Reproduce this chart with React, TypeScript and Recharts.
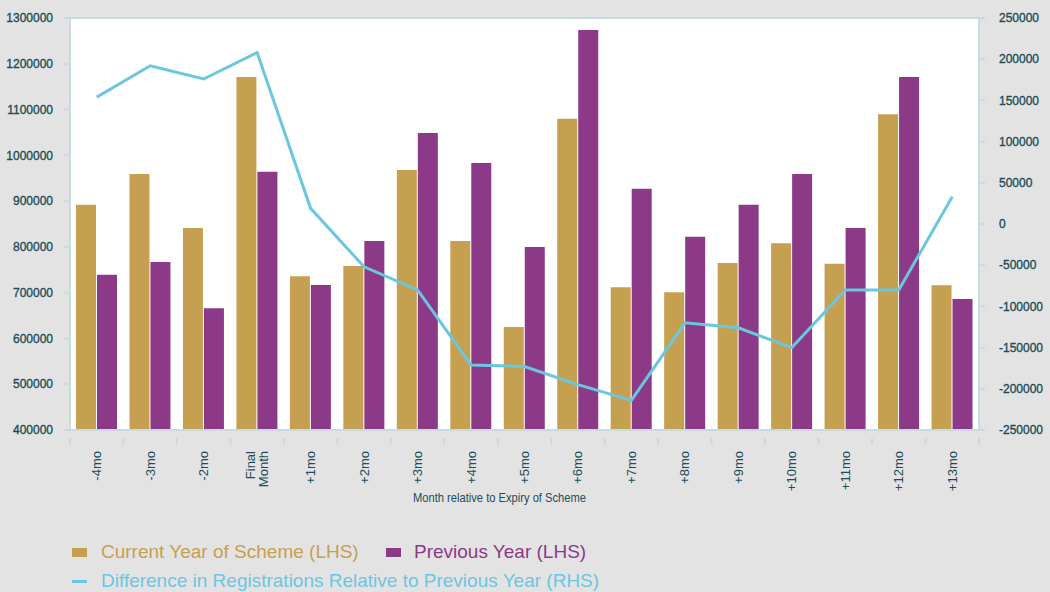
import React from 'react';
import { ComposedChart, Bar, Line, XAxis, YAxis, CartesianGrid, Legend, Label, ReferenceLine } from 'recharts';

const categories = ['-4mo', '-3mo', '-2mo', 'Final Month', '+1mo', '+2mo', '+3mo', '+4mo', '+5mo', '+6mo', '+7mo', '+8mo', '+9mo', '+10mo', '+11mo', '+12mo', '+13mo'];
const currentYear = [892000, 959000, 841000, 1171000, 736000, 758000, 968000, 813000, 625000, 1080000, 712000, 701000, 765000, 808000, 763000, 1090000, 716000];
const previousYear = [739000, 767000, 666000, 964000, 717000, 813000, 1049000, 983000, 800000, 1274000, 927000, 822000, 892000, 959000, 841000, 1171000, 686000];
const difference = [154000, 192000, 176000, 208000, 19000, -52000, -80000, -171000, -173000, -195000, -214000, -120000, -126000, -150000, -80000, -80000, 33000];
const leftTicks = [400000, 500000, 600000, 700000, 800000, 900000, 1000000, 1100000, 1200000, 1300000];
const rightTicks = [-250000, -200000, -150000, -100000, -50000, 0, 50000, 100000, 150000, 200000, 250000];

const GOLD = '#c5a050';
const PURPLE = '#8c3a87';
const BLUE = '#6bc6e0';
const TEXT = '#1d4d5b';
const AXIS = '#c7dbe1';
const BG = '#e3e3e3';
const FONT = '"Liberation Sans", Arial, sans-serif';

const PLOT_W = 909;

const data = categories.map((month, i) => ({
    month,
    current: currentYear[i],
    previous: previousYear[i],
    diff: difference[i],
}));

const MonthTick = (props: any) => {
    const { x, y, payload, index } = props;
    const band = PLOT_W / categories.length;
    const words = String(payload.value).split(' ');
    const last = index === categories.length - 1;
    return (
        <g>
            <line x1={x - band / 2} x2={x - band / 2} y1={y} y2={y + 7} stroke={AXIS} strokeWidth={2} />
            {last && <line x1={x + band / 2} x2={x + band / 2} y1={y} y2={y + 7} stroke={AXIS} strokeWidth={2} />}
            <text transform={`translate(${x},${y + 13}) rotate(-90)`} textAnchor="end" fill={TEXT} fontSize={13} fontFamily={FONT}>
                {words.map((w, i) => (
                    <tspan key={w} x={0} dy={i === 0 ? (words.length > 1 ? -2 : 4.5) : 13}>{w}</tspan>
                ))}
            </text>
        </g>
    );
};

const AxisTitle = (props: any) => {
    const { viewBox } = props;
    return (
        <text x={viewBox.x + viewBox.width / 2 - 25} y={viewBox.y + 72} textAnchor="middle" fill={TEXT} fontSize={13} fontFamily={FONT}
            textLength={173} lengthAdjust="spacingAndGlyphs">
            Month relative to Expiry of Scheme
        </text>
    );
};

const ChartLegend = () => (
    <div style={{ position: 'relative', height: 62, fontFamily: FONT, fontSize: 19, lineHeight: '22px' }}>
        <div style={{ position: 'absolute', left: 72, top: 18, width: 15, height: 9, background: GOLD }} />
        <div style={{ position: 'absolute', left: 101, top: 11, color: GOLD, whiteSpace: 'nowrap' }}>Current Year of Scheme (LHS)</div>
        <div style={{ position: 'absolute', left: 386, top: 18, width: 15, height: 9, background: PURPLE }} />
        <div style={{ position: 'absolute', left: 414, top: 11, color: PURPLE, whiteSpace: 'nowrap' }}>Previous Year (LHS)</div>
        <div style={{ position: 'absolute', left: 72, top: 50, width: 15, height: 3, background: BLUE }} />
        <div style={{ position: 'absolute', left: 101, top: 40, color: BLUE, whiteSpace: 'nowrap' }}>Difference in Registrations Relative to Previous Year (RHS)</div>
    </div>
);

const tickStyle = { fill: TEXT, fontSize: 12, fontFamily: FONT, stroke: TEXT, strokeWidth: 0.35 };

export default function App() {
    return (
        <div style={{ position: 'absolute', left: 0, top: 0, width: 1050, height: 592, background: BG }}>
            <ComposedChart width={1050} height={592} data={data} margin={{ top: 18, right: 0, left: 0, bottom: 0 }} barGap={1}>
                <CartesianGrid horizontal={false} vertical={false} fill="#ffffff" yAxisId="left" />
                <XAxis dataKey="month" interval={0} height={100} tick={<MonthTick />} tickLine={false} axisLine={{ stroke: AXIS, strokeWidth: 2 }}>
                    <Label content={<AxisTitle />} />
                </XAxis>
                <YAxis yAxisId="left" width={70} domain={[400000, 1300000]} ticks={leftTicks} interval={0}
                    axisLine={{ stroke: AXIS, strokeWidth: 2 }} tickLine={{ stroke: AXIS, strokeWidth: 2 }} tickSize={6} tickMargin={11}
                    tick={tickStyle} allowDataOverflow />
                <YAxis yAxisId="right" orientation="right" width={71} domain={[-250000, 250000]} ticks={rightTicks} interval={0}
                    axisLine={{ stroke: AXIS, strokeWidth: 2 }} tickLine={{ stroke: AXIS, strokeWidth: 2 }} tickSize={6} tickMargin={14}
                    tick={{ ...tickStyle, textAnchor: 'start' }} />
                <ReferenceLine yAxisId="left" y={1300000} stroke={AXIS} strokeWidth={2} />
                <Bar yAxisId="left" dataKey="current" name="Current Year of Scheme (LHS)" fill={GOLD} barSize={20} isAnimationActive={false} />
                <Bar yAxisId="left" dataKey="previous" name="Previous Year (LHS)" fill={PURPLE} barSize={20} isAnimationActive={false} />
                <Line yAxisId="right" dataKey="diff" name="Difference in Registrations Relative to Previous Year (RHS)" stroke={BLUE} strokeWidth={3} dot={false} activeDot={false} type="linear" isAnimationActive={false} />
                <Legend verticalAlign="bottom" height={62} wrapperStyle={{ left: 0, width: 1050 }} content={<ChartLegend />} />
            </ComposedChart>
        </div>
    );
}
